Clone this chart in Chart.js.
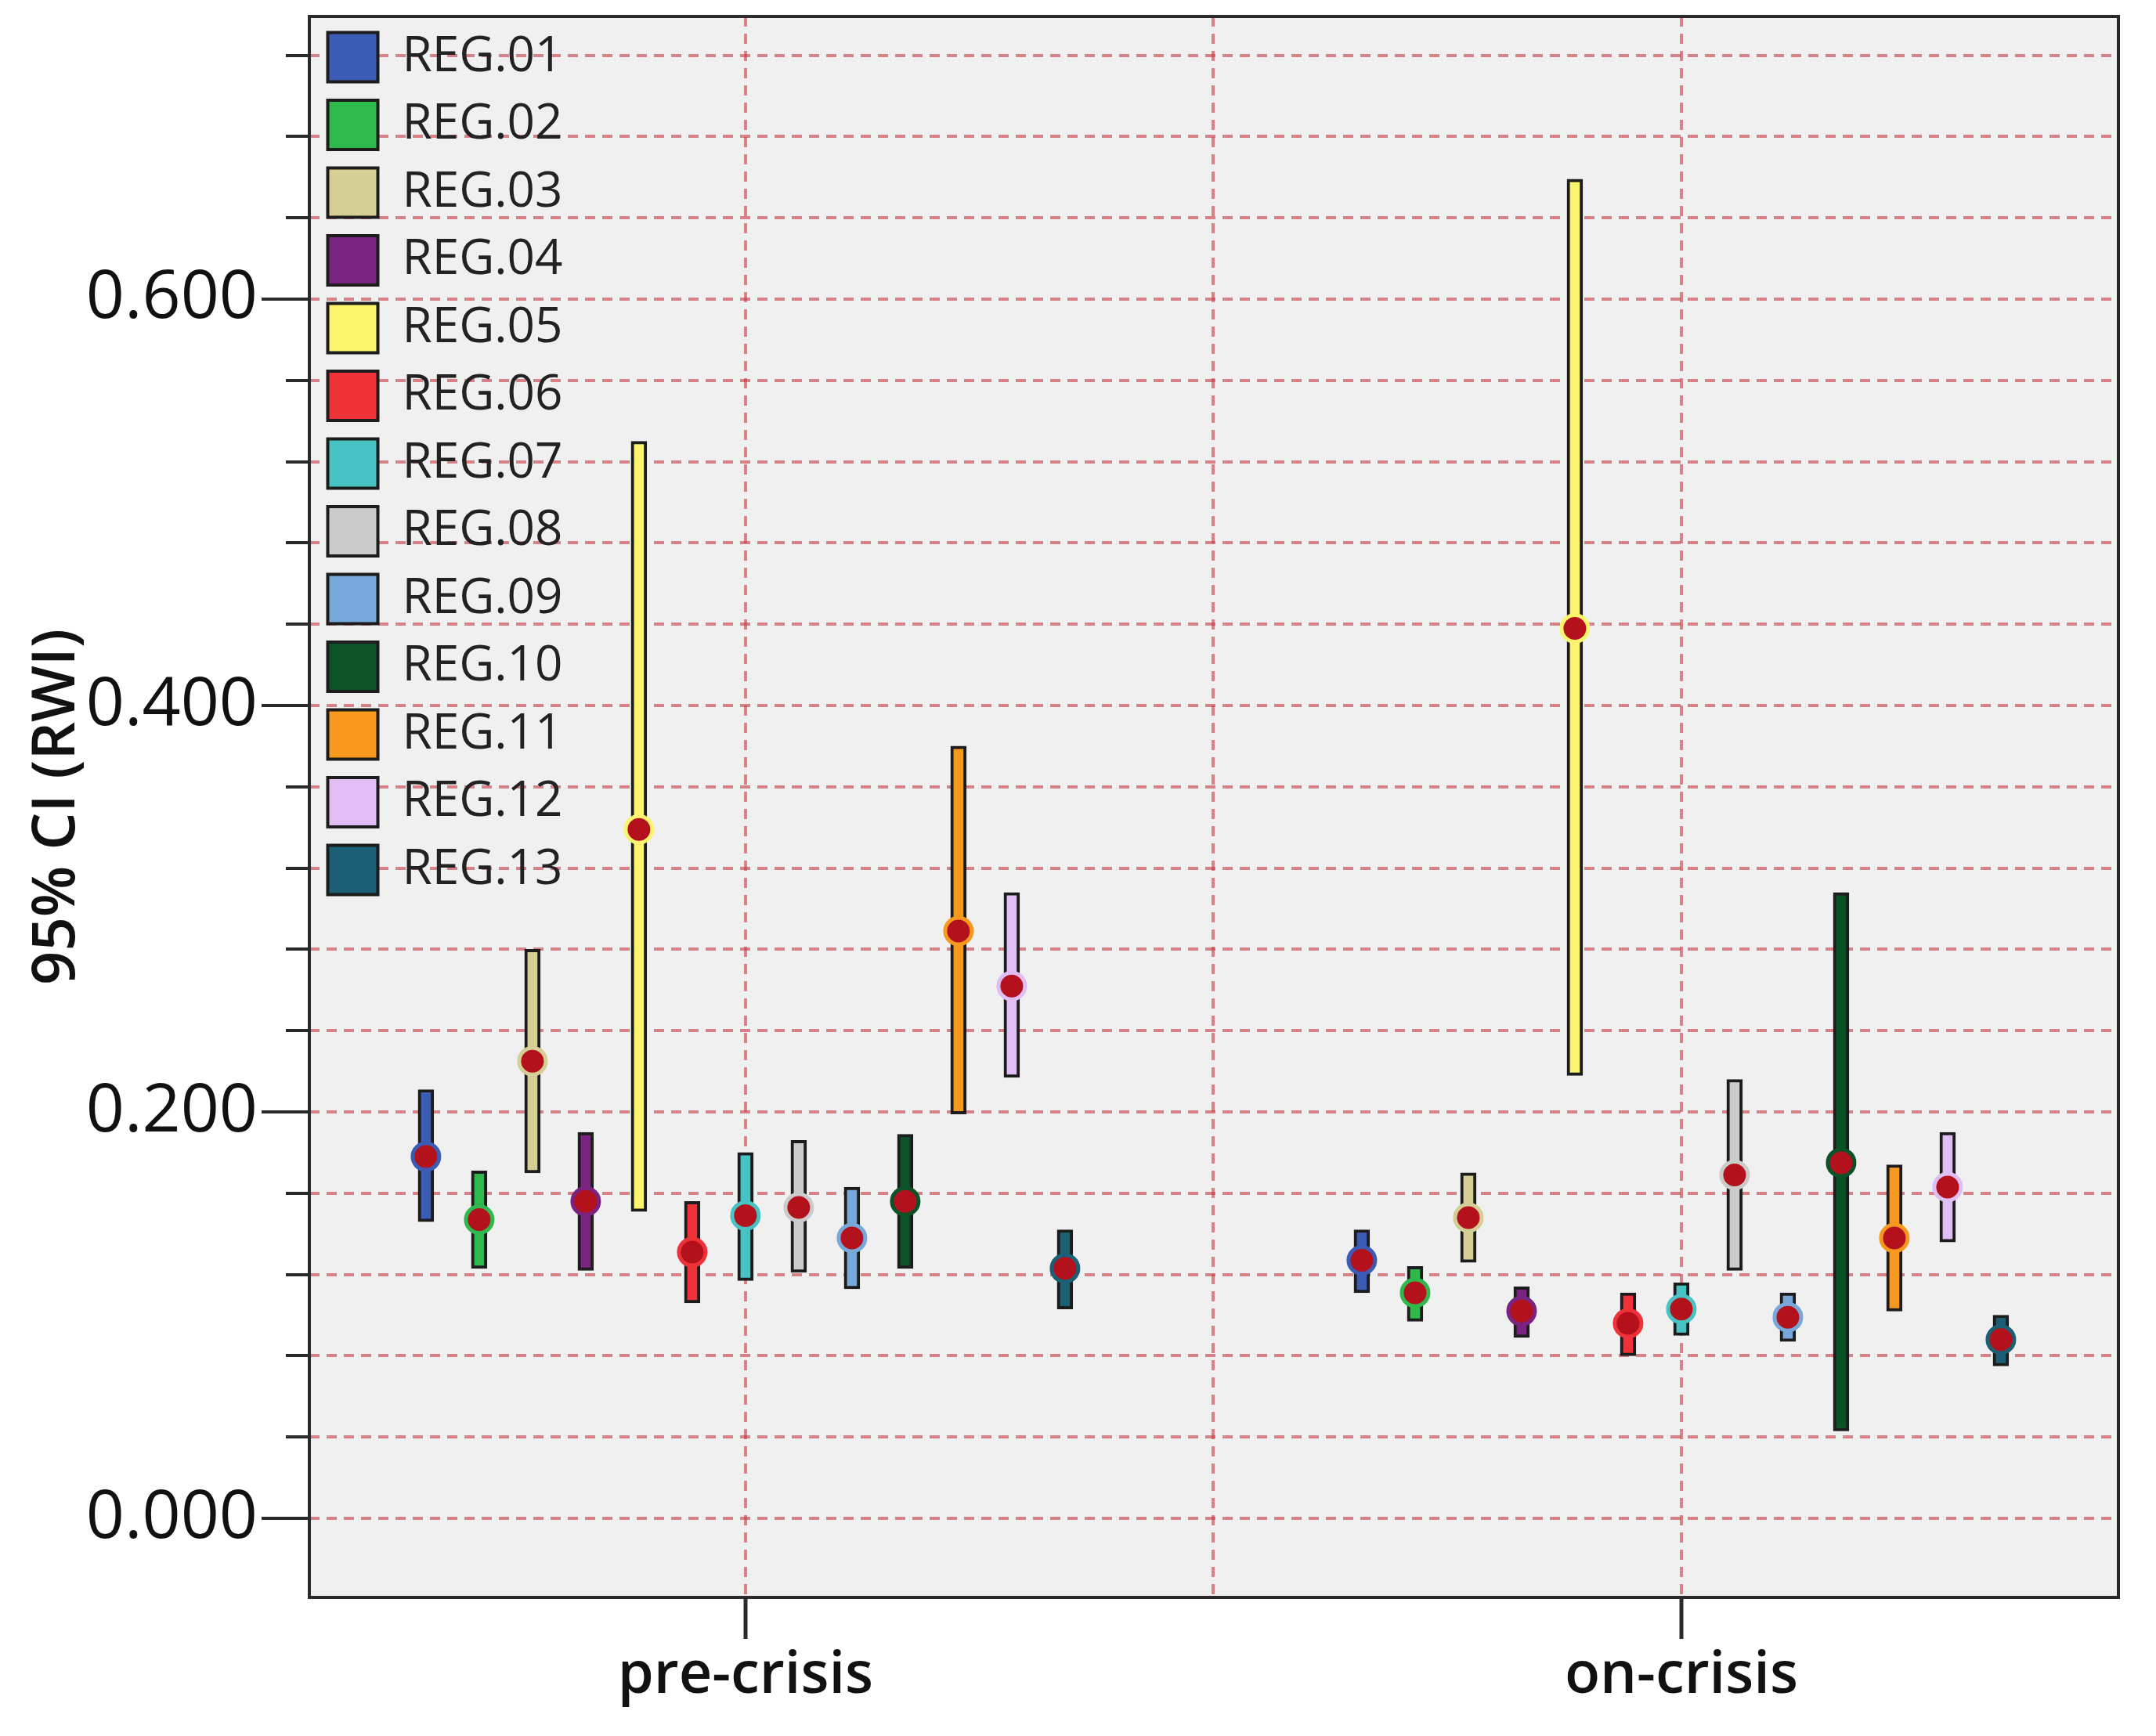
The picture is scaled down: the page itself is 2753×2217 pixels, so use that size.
<!DOCTYPE html>
<html>
<head>
<meta charset="utf-8">
<script src="https://cdn.jsdelivr.net/npm/chart.js@4.4.1/dist/chart.umd.min.js"></script>
<style>
  html, body { margin: 0; padding: 0; background: #fff; }
  #wrap { width: 2753px; height: 2217px; }
</style>
</head>
<body>
<div id="wrap"><canvas id="myChart" width="2753" height="2217"></canvas></div>
<script>
// groups on the x axis (placed at 0 and 1 on a linear scale)
const periods = ['pre-crisis', 'on-crisis'];
const periodPos = [0, 1];
const xTicks = [0, 0.5, 1];

const regions = ['REG.01', 'REG.02', 'REG.03', 'REG.04', 'REG.05', 'REG.06', 'REG.07',
                 'REG.08', 'REG.09', 'REG.10', 'REG.11', 'REG.12', 'REG.13'];
const regionColors = ['#3b5bb4', '#2fb84b', '#d5cf96', '#7a2381', '#fbf56e', '#ee3238', '#47c3c3',
                      '#cbcbcb', '#78a7d9', '#0c5229', '#f7981f', '#e0bdf2', '#1c5e73'];

// 95% CI bounds and means
const preLow  = [0.146, 0.123, 0.170, 0.122, 0.151, 0.106, 0.117, 0.121, 0.113, 0.123, 0.199, 0.217, 0.103];
const preHigh = [0.211, 0.171, 0.280, 0.190, 0.530, 0.156, 0.180, 0.186, 0.163, 0.189, 0.380, 0.308, 0.142];
const preMean = [0.178, 0.147, 0.225, 0.156, 0.339, 0.131, 0.149, 0.153, 0.138, 0.156, 0.289, 0.262, 0.123];

const onLow   = [0.111, 0.097, 0.126, 0.089, 0.218, 0.080, 0.090, 0.122, 0.087, 0.043, 0.102, 0.136, 0.075];
const onHigh  = [0.142, 0.124, 0.170, 0.114, 0.659, 0.111, 0.116, 0.216, 0.111, 0.308, 0.174, 0.190, 0.100];
const onMean  = [0.127, 0.111, 0.148, 0.102, 0.438, 0.096, 0.103, 0.169, 0.099, 0.175, 0.138, 0.163, 0.088];

const yTicks = [0, 0.04, 0.08, 0.12, 0.16, 0.2, 0.24, 0.28, 0.32, 0.36, 0.4, 0.44, 0.48,
                0.52, 0.56, 0.6, 0.64, 0.68, 0.72];
const yLabelTicks = [0, 0.2, 0.4, 0.6];

const gridColor = 'rgba(200, 55, 65, 0.6)';
const axisInk = '#2a2a2a';

const datasets = regions.map((name, i) => ({
    label: name,
    data: [
        { x: periodPos[0], y: [preLow[i], preHigh[i]] },
        { x: periodPos[1], y: [onLow[i], onHigh[i]] }
    ],
    means: [preMean[i], onMean[i]],
    backgroundColor: regionColors[i],
    borderColor: '#1c1c1c',
    borderWidth: 4,
    borderSkipped: false,
    barThickness: 68,
    maxBarThickness: 20
}));

// plot background, frame, long ticks at labelled values and mean dots
const plotDecor = {
    id: 'plotDecor',
    afterLayout(chart) {
        // keep the legend inside the plot, near its top-left corner
        chart.legend.top = chart.chartArea.top - 3;
    },
    beforeDraw(chart) {
        const { ctx, chartArea: a } = chart;
        ctx.save();
        ctx.fillStyle = '#f0f0f0';
        ctx.fillRect(a.left, a.top, a.right - a.left, a.bottom - a.top);
        ctx.restore();
    },
    afterDatasetsDraw(chart) {
        const ctx = chart.ctx;
        const yScale = chart.scales.y;
        chart.data.datasets.forEach((ds, i) => {
            const meta = chart.getDatasetMeta(i);
            meta.data.forEach((bar, j) => {
                const py = yScale.getPixelForValue(ds.means[j]);
                ctx.save();
                ctx.beginPath();
                ctx.arc(bar.x, py, 17, 0, Math.PI * 2);
                ctx.fillStyle = '#b3121c';
                ctx.fill();
                ctx.lineWidth = 5;
                ctx.strokeStyle = ds.backgroundColor;
                ctx.stroke();
                ctx.restore();
            });
        });
    },
    afterDraw(chart) {
        const { ctx, chartArea: a } = chart;
        const yScale = chart.scales.y;
        ctx.save();
        ctx.strokeStyle = axisInk;
        ctx.lineWidth = 4;
        ctx.strokeRect(a.left, a.top, a.right - a.left, a.bottom - a.top);
        yLabelTicks.forEach(v => {
            const py = yScale.getPixelForValue(v);
            ctx.beginPath();
            ctx.moveTo(a.left - 61, py);
            ctx.lineTo(a.left - 28, py);
            ctx.stroke();
        });
        ctx.restore();
    }
};

new Chart('myChart', {
    type: 'bar',
    data: { datasets: datasets },
    options: {
        responsive: false,
        devicePixelRatio: 1,
        animation: false,
        layout: { padding: { left: 0, right: 48, top: 21, bottom: 0 } },
        plugins: {
            legend: {
                position: 'chartArea',
                align: 'start',
                labels: {
                    boxWidth: 64,
                    boxHeight: 63,
                    padding: 23.5,
                    color: '#222',
                    font: { family: 'Open Sans', size: 62 }
                }
            },
            tooltip: { enabled: false }
        },
        scales: {
            x: {
                type: 'linear',
                min: -0.466,
                max: 1.467,
                offset: false,
                afterBuildTicks: scale => { scale.ticks = xTicks.map(v => ({ value: v })); },
                afterFit: scale => {
                    scale.height = 177;
                    scale.paddingLeft = 0;
                    scale.paddingRight = 0;
                },
                ticks: {
                    callback: v => {
                        const k = periodPos.indexOf(v);
                        return k >= 0 ? periods[k] : '';
                    },
                    autoSkip: false,
                    maxRotation: 0,
                    padding: 4,
                    color: '#111',
                    font: { family: 'Open Sans', size: 74, weight: '600' }
                },
                grid: {
                    offset: false,
                    color: gridColor,
                    lineWidth: 4,
                    tickLength: 53,
                    tickWidth: 5,
                    tickColor: c => periodPos.includes(c.tick.value) ? axisInk : 'rgba(0,0,0,0)'
                },
                border: { display: false, dash: [13, 9] }
            },
            y: {
                min: -0.0389,
                max: 0.7391,
                afterBuildTicks: scale => { scale.ticks = yTicks.map(v => ({ value: v })); },
                afterFit: scale => {
                    scale.width = 395;
                    scale.paddingTop = 0;
                    scale.paddingBottom = 0;
                },
                ticks: {
                    callback: v => yLabelTicks.some(t => Math.abs(t - v) < 1e-9) ? v.toFixed(3) : '',
                    autoSkip: false,
                    padding: 36,
                    color: '#111',
                    font: { family: 'Open Sans', size: 86 }
                },
                grid: {
                    color: gridColor,
                    lineWidth: 4,
                    tickLength: 30,
                    tickWidth: 4,
                    tickColor: axisInk
                },
                border: { display: false, dash: [13, 9] },
                title: {
                    display: true,
                    text: '95% CI (RWI)',
                    color: '#111',
                    font: { family: 'Open Sans', size: 76, weight: '600' },
                    padding: { top: 28, bottom: 0 }
                }
            }
        }
    },
    plugins: [plotDecor]
});
</script>
</body>
</html>
